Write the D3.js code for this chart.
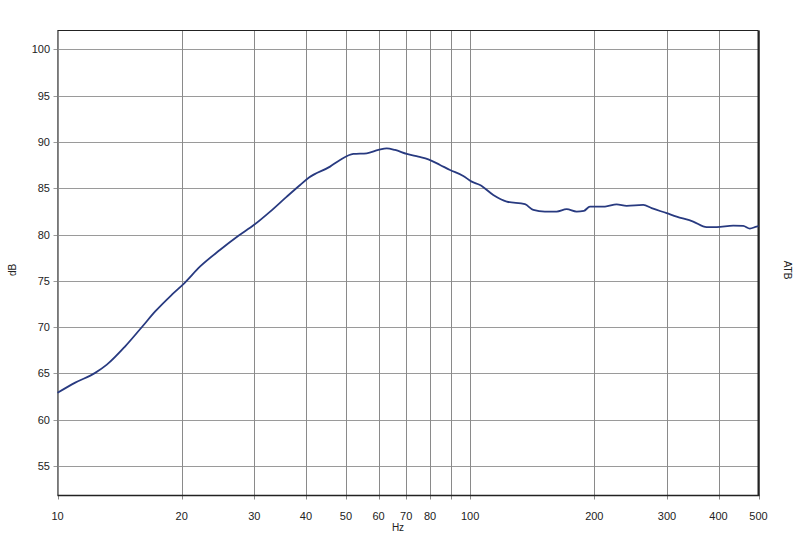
<!DOCTYPE html>
<html><head><meta charset="utf-8">
<script src="https://cdn.jsdelivr.net/npm/d3@7"></script>
<style>body{margin:0;background:#fff}svg{display:block}text{font-family:Arial,"Liberation Sans",sans-serif;font-size:11px;fill:#222}</style>
</head><body>
<script>
const freqs = [10,11.04,12.34,13.17,14.59,16.02,17.25,18.93,20.31,22.17,24.79,27.45,29.96,32.76,35.95,38.73,40.78,45.77,48.39,52.13,56.17,59.94,62.8,65.77,70.23,74.9,79.2,84.56,89.41,96.27,100.9,105.7,113.8,122.7,135.8,142.3,151.8,162.1,171.4,181.2,188.7,195.2,212.3,226.5,239.6,262.8,275.4,299.5,316.6,347.3,374.4,395.8,434.2,459.1,476.4,494.7,500];
const dB = [62.9,64.0,65.05,65.94,67.92,70.01,71.69,73.5,74.76,76.55,78.35,79.86,81.05,82.48,84.1,85.36,86.19,87.34,88.06,88.71,88.78,89.14,89.32,89.14,88.71,88.41,88.13,87.52,86.98,86.33,85.72,85.36,84.28,83.56,83.28,82.66,82.48,82.48,82.74,82.48,82.56,83.02,83.02,83.26,83.1,83.2,82.85,82.31,81.94,81.4,80.8,80.8,80.97,80.94,80.65,80.86,80.9];
const xGrid = [10,20,30,40,50,60,70,80,90,100,200,300,400,500];
const xTickLabels = [10,20,30,40,50,60,70,80,100,200,300,400,500];
const yTicks = [55,60,65,70,75,80,85,90,95,100];

const W=800,H=544;
const L=57.5,R=758.5,T=30.5,B=495.5;
const svg=d3.select("body").append("svg").attr("width",W).attr("height",H);
const x=d3.scaleLog().domain([10,500]).range([L,R]);
const y=d3.scaleLinear().domain([51.8,102.05]).range([B,T]);

const g=svg.append("g");
g.selectAll(".hg").data(yTicks).join("line")
 .attr("x1",L-4).attr("x2",R).attr("y1",d=>Math.round(y(d))+0.5).attr("y2",d=>Math.round(y(d))+0.5)
 .attr("stroke","#9a9a9a").attr("stroke-width",1);
g.selectAll(".vg").data(xGrid).join("line")
 .attr("y1",T).attr("y2",B+4).attr("x1",d=>Math.round(x(d))+0.5).attr("x2",d=>Math.round(x(d))+0.5)
 .attr("stroke","#8a8a8a").attr("stroke-width",1);

svg.append("line").attr("x1",L).attr("x2",L).attr("y1",T).attr("y2",B).attr("stroke","#777");
svg.append("line").attr("x1",L).attr("x2",R).attr("y1",T).attr("y2",T).attr("stroke","#222");
svg.append("line").attr("x1",L).attr("x2",R+1).attr("y1",B).attr("y2",B).attr("stroke","#222").attr("stroke-width",1.5);
svg.append("line").attr("x1",R).attr("x2",R).attr("y1",T).attr("y2",B).attr("stroke","#222").attr("stroke-width",2);

svg.selectAll(".yl").data(yTicks).join("text")
 .attr("x",50).attr("y",d=>y(d)+4).attr("text-anchor","end").text(d=>d);
svg.selectAll(".xl").data(xTickLabels).join("text")
 .attr("x",d=>x(d)).attr("y",520).attr("text-anchor","middle").text(d=>d);

svg.append("text").attr("x",398).attr("y",531).attr("text-anchor","middle").style("font-size","10px").text("Hz");
svg.append("text").attr("transform","translate(16,270) rotate(-90)").attr("text-anchor","middle").style("font-size","10px").text("dB");
svg.append("text").attr("transform","translate(784,270) rotate(90)").attr("text-anchor","middle").style("font-size","10px").text("ATB");

const pts=freqs.map((f,i)=>[f,dB[i]]);
svg.append("path").datum(pts)
 .attr("d",d3.line().curve(d3.curveMonotoneX).x(d=>x(d[0])).y(d=>y(d[1])))
 .attr("fill","none").attr("stroke","#283a80").attr("stroke-width",1.8).attr("stroke-linejoin","round");
</script>
</body></html>
